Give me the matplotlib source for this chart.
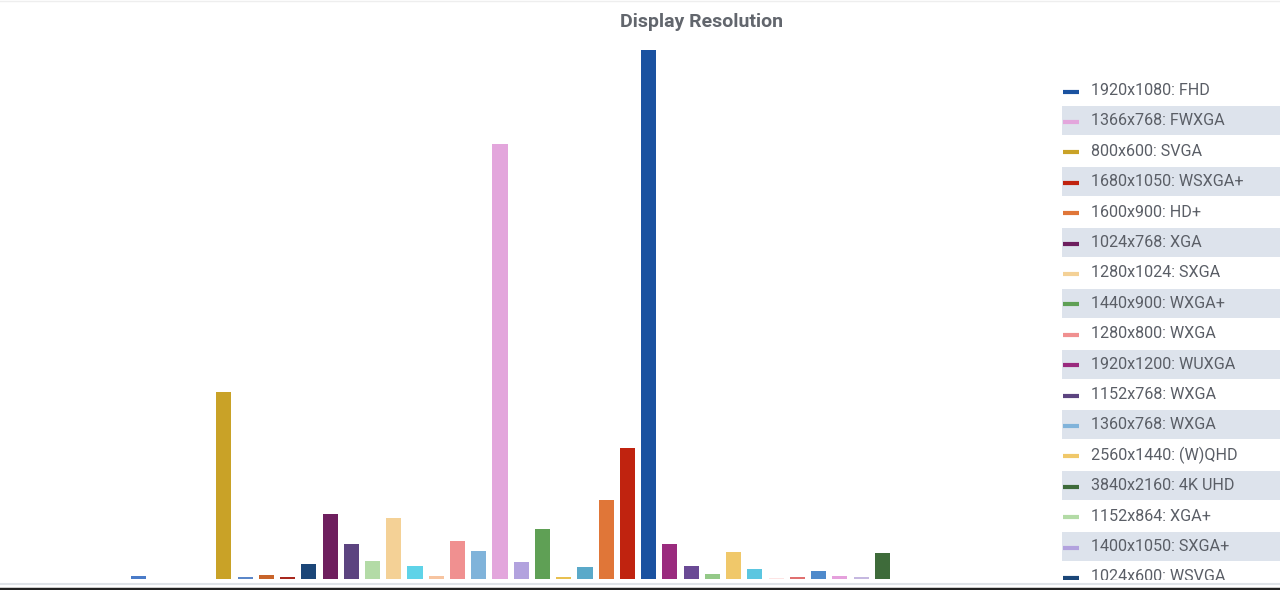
"""
Display resolution share chart with a side list legend.
"""

import matplotlib
matplotlib.use('Agg')
import matplotlib.pyplot as plt
from matplotlib.lines import Line2D
from matplotlib.patches import Rectangle

plt.rcParams['font.family'] = ['Roboto', 'DejaVu Sans']

# Categories sorted by width, share in percent
resolutions = [
    '480x320: HVGA', '640x480: VGA', '720x400', '768x1024', '800x480: WVGA',
    '800x600: SVGA', '854x480: FWVGA', '960x540: qHD', '1000x600',
    '1024x600: WSVGA', '1024x768: XGA', '1152x768: WXGA', '1152x864: XGA+',
    '1280x1024: SXGA', '1280x720: HD', '1280x768: WXGA', '1280x800: WXGA',
    '1360x768: WXGA', '1366x768: FWXGA', '1400x1050: SXGA+', '1440x900: WXGA+',
    '1440x960', '1536x864', '1600x900: HD+', '1680x1050: WSXGA+',
    '1920x1080: FHD', '1920x1200: WUXGA', '2048x1152: QWXGA', '2160x1440',
    '2560x1440: (W)QHD', '2560x1600: WQXGA', '2736x1824', '2880x1800',
    '3000x2000', '3200x1800: QHD+', '3440x1440: UWQHD', '3840x2160: 4K UHD',
]
shares = [
    0.02, 0.16, 0.0, 0.0, 0.02,
    10.04, 0.11, 0.24, 0.11,
    0.81, 3.49, 1.87, 0.97,
    3.27, 0.70, 0.16, 2.04,
    1.50, 23.35, 0.91, 2.68,
    0.11, 0.66, 4.24, 7.03,
    28.40, 1.88, 0.70, 0.27,
    1.45, 0.54, 0.05, 0.11,
    0.41, 0.16, 0.11, 1.40,
]
colors = [
    '#fde3e3', '#4a7bc8', '#dddddd', '#dddddd', '#fdf3cf',
    '#c9a227', '#5b87c9', '#c8642a', '#a8281e',
    '#1b4678', '#6e1f5e', '#5c4480', '#b3dba6',
    '#f4d196', '#5fd3e8', '#f7c4a0', '#f09090',
    '#80b3da', '#e3a6dc', '#b2a2de', '#5fa055',
    '#e8c050', '#5aa9c9', '#e07638', '#c0230f',
    '#1a52a0', '#9a2b7e', '#6a4a95', '#94c988',
    '#f0c86a', '#5bc6e0', '#fde4e4', '#e07070',
    '#4f8acb', '#e5a0dc', '#c5b8e0', '#3e6b3a',
]

W, H = 1280, 590
fig = plt.figure(figsize=(W / 100, H / 100), dpi=100)
fig.patch.set_facecolor('white')

# Bar area in pixel terms: bars from x=107 to 893, baseline 579, top 50
ax = fig.add_axes([107 / W, (H - 579) / H, 786 / W, 529 / H])
ax.bar(range(len(shares)), shares, width=0.71, color=colors)
ax.set_xlim(-0.5, len(shares) - 0.5)
ax.set_ylim(0, max(shares))
ax.axis('off')

fig.text(701 / W, 1 - 22 / H, 'Display Resolution', ha='center', va='center',
         fontsize=14, fontweight='bold', color='#62666d')

# Legend list, ordered by share descending; the panel is cut off at y=580
LEG_BOTTOM = 580
leg = fig.add_axes([1062 / W, (H - LEG_BOTTOM) / H, 218 / W, LEG_BOTTOM / H])
leg.set_xlim(0, 218)
leg.set_ylim(LEG_BOTTOM, 0)
leg.axis('off')
order = sorted(range(len(shares)), key=lambda i: -shares[i])
row_h = 30.4
for row, i in enumerate(order):
    yc = 90.5 + row * row_h
    if yc - 12 > LEG_BOTTOM:
        break  # rest of the list is scrolled out of view
    if row % 2 == 1:
        leg.add_patch(Rectangle((0, yc - 14.5), 218, 29, color='#dde3ec', lw=0))
    leg.plot([1, 17], [yc + 1, yc + 1], color=colors[i], lw=3, solid_capstyle='butt')
    leg.text(29, yc, resolutions[i], va='center', ha='left', fontsize=11.6,
             color='#5a5e66', clip_on=True)

# screenshot border lines
fig.add_artist(Line2D([0, 1], [1 - 584 / H] * 2, color='#dfe3e8', lw=1.5))
fig.add_artist(Line2D([0, 1], [1 - 588.5 / H] * 2, color='#222222', lw=2.5))
fig.add_artist(Line2D([0, 1], [1 - 0.5 / H] * 2, color='#eeeeee', lw=1))

fig.savefig('out.png', dpi=100)
